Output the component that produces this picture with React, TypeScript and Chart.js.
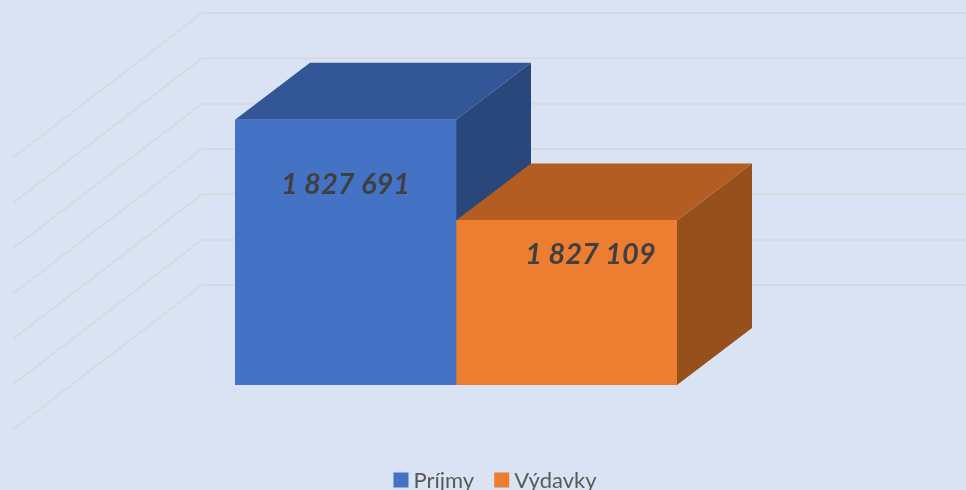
import React, { useEffect, useRef } from "react";
import { Chart, registerables } from "chart.js";

Chart.register(...registerables);

const categories = ["Rozpočet"];
const seriesNames = ["Príjmy", "Výdavky"];
const prijmy = [1827691];
const vydavky = [1827109];
const labelTexts = ["1 827 691", "1 827 109"];
const axisMin = 1826158;
const axisMax = 1827730;
const axisStep = 262;

const frontColors = ["#4472C4", "#ED7D31"];
const topColors = ["#335796", "#B35D22"];
const sideColors = ["#2A477C", "#974F1B"];
const labelShift = [[0, 65], [24, 34]];

const DEPTH_X = 75;
const DEPTH_Y = 57;

const poly = (ctx: CanvasRenderingContext2D, pts: number[][], fill: string) => {
  ctx.beginPath();
  pts.forEach(([x, y], i) => (i ? ctx.lineTo(x, y) : ctx.moveTo(x, y)));
  ctx.closePath();
  ctx.fillStyle = fill;
  ctx.fill();
};

const walls = {
  id: "walls",
  beforeDatasetsDraw(chart: any) {
    const { ctx, scales, chartArea, width } = chart;
    ctx.save();
    ctx.strokeStyle = "#D6DADF";
    ctx.lineWidth = 2;
    scales.y.ticks.forEach((t: any) => {
      const p = scales.y.getPixelForValue(t.value);
      ctx.beginPath();
      ctx.moveTo(chartArea.left - 221, p + 44);
      ctx.lineTo(chartArea.left - 33, p - 100);
      ctx.lineTo(width, p - 100);
      ctx.stroke();
    });
    const bot = chartArea.bottom;
    chart.data.datasets.forEach((_: any, i: number) => {
      const b = chart.getDatasetMeta(i).data[0];
      const half = b.width / 2;
      const l = b.x - half;
      const r = b.x + half;
      const t = b.y;
      poly(ctx, [[r, t], [r + DEPTH_X, t - DEPTH_Y], [r + DEPTH_X, bot - DEPTH_Y], [r, bot]], sideColors[i]);
      poly(ctx, [[l, t], [l + DEPTH_X, t - DEPTH_Y], [r + DEPTH_X, t - DEPTH_Y], [r, t]], topColors[i]);
    });
    ctx.restore();
  },
  afterDatasetsDraw(chart: any) {
    const { ctx, width, data } = chart;
    ctx.save();
    ctx.textBaseline = "middle";
    ctx.font = "italic bold 29px Lato";
    ctx.fillStyle = "#404040";
    ctx.textAlign = "center";
    data.datasets.forEach((_: any, i: number) => {
      const b = chart.getDatasetMeta(i).data[0];
      ctx.fillText(labelTexts[i], b.x + labelShift[i][0], b.y + labelShift[i][1]);
    });
    ctx.font = "22px Lato";
    ctx.textAlign = "left";
    const y = 480;
    const box = 15;
    const gap = 5;
    const sep = 20;
    const widths = data.datasets.map((d: any) => ctx.measureText(d.label).width);
    const total = widths.reduce((a: number, w: number) => a + w + box + gap, 0) + sep;
    let x = (width - total) / 2 + 12;
    data.datasets.forEach((d: any, i: number) => {
      ctx.fillStyle = frontColors[i];
      ctx.fillRect(x, y - box / 2, box, box);
      ctx.fillStyle = "#595959";
      ctx.fillText(d.label, x + box + gap, y + 1);
      x += box + gap + widths[i] + sep;
    });
    ctx.restore();
  },
};

export default function App() {
  const ref = useRef<HTMLCanvasElement>(null);
  useEffect(() => {
    const chart = new Chart(ref.current!, {
      type: "bar",
      data: {
        labels: categories,
        datasets: [
          { label: seriesNames[0], data: prijmy, backgroundColor: frontColors[0] },
          { label: seriesNames[1], data: vydavky, backgroundColor: frontColors[1] },
        ],
      },
      options: {
        responsive: false,
        animation: false,
        layout: { padding: { left: 235, right: 289, top: 113, bottom: 105 } },
        datasets: { bar: { barPercentage: 1, categoryPercentage: 1 } },
        scales: {
          x: { display: false },
          y: {
            display: false,
            min: axisMin,
            max: axisMax,
            afterBuildTicks(axis: any) {
              const ticks = [];
              for (let v = axisMin; v <= axisMax; v += axisStep) ticks.push({ value: v });
              axis.ticks = ticks;
            },
          },
        },
        plugins: { legend: { display: false }, tooltip: { enabled: false } },
      },
      plugins: [walls],
    } as any);
    return () => chart.destroy();
  }, []);
  return (
    <div style={{ position: "absolute", left: 0, top: 0, width: 966, height: 490, background: "#DAE3F3" }}>
      <canvas ref={ref} width={966} height={490} style={{ display: "block" }} />
    </div>
  );
}
